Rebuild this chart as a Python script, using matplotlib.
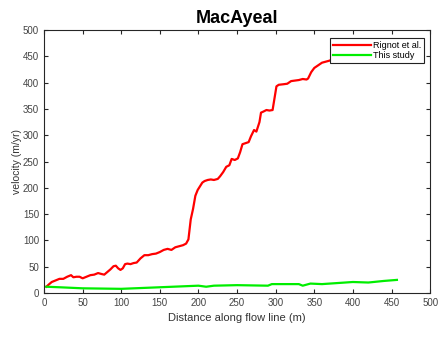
import numpy as np
import matplotlib
matplotlib.use('Agg')
import matplotlib.pyplot as plt

plt.rcParams['font.family'] = ['Liberation Sans', 'DejaVu Sans']

# Rignot et al. velocity along the flow line
rignotDist = [3, 6, 10, 15, 20, 25, 30, 35, 38, 42, 46, 50, 55, 60, 65, 70, 75, 78, 82, 86, 90, 93, 96, 99, 102,
              105, 108, 112, 116, 120, 125, 130, 135, 140, 145, 150, 155, 160, 165, 170, 175, 180, 184, 187,
              190, 193, 196, 199, 202, 205, 208, 212, 216, 220, 225, 228, 232, 236, 240, 243, 247, 251, 254,
              257, 261, 265, 268, 272, 275, 279, 281, 284, 288, 292, 296, 299, 301, 304, 310, 315, 320, 325,
              330, 335, 340, 342, 346, 350, 355, 360, 365, 370, 375, 380, 390, 400, 410, 420, 430, 440, 450, 457]
rignotVel = [12, 16, 21, 24, 27, 27, 31, 34, 30, 31, 31, 28, 31, 34, 35, 38, 36, 35, 40, 45, 51, 52, 47, 44, 47,
             55, 56, 55, 57, 58, 66, 72, 72, 74, 75, 78, 82, 84, 82, 87, 89, 91, 94, 102,
             140, 160, 185, 196, 203, 210, 213, 215, 216, 215, 217, 222, 230, 240, 243, 255, 253, 256, 268,
             283, 285, 287, 298, 310, 307, 325, 343, 345, 348, 347, 348, 375, 393, 396, 397, 398, 403, 404,
             405, 407, 406, 408, 420, 428, 433, 438, 440, 442, 446, 450, 452, 455, 458, 460, 462, 464, 466, 468]

# This study
studyDist = [3, 20, 50, 100, 150, 200, 210, 220, 250, 290, 295, 330, 335, 345, 360, 400, 420, 440, 457]
studyVel = [12, 11, 9, 8, 11, 14, 12, 14, 15, 14, 17, 17, 14, 18, 17, 21, 20, 23, 25]

fig = plt.figure(figsize=(4.38, 3.38), dpi=100)
ax = fig.add_axes([0.1005, 0.133, 0.8815, 0.778])
ax.plot(rignotDist, rignotVel, color='#ff0000', lw=1.6, label='Rignot et al.')
ax.plot(studyDist, studyVel, color='#00ee00', lw=1.6, label='This study')

ax.set_xlim(0, 500)
ax.set_ylim(0, 500)
ax.set_xticks(np.arange(0, 501, 50))
ax.set_yticks(np.arange(0, 501, 50))
ax.tick_params(direction='in', top=True, right=True, labelsize=7, length=3,
               colors='#262626', labelcolor='#444444')
for spine in ax.spines.values():
    spine.set_color('#262626')
ax.set_xlabel('Distance along flow line (m)', fontsize=8, labelpad=4, color='#333333')
ax.set_ylabel('velocity (m/yr)', fontsize=7.5, labelpad=1, color='#333333')
ax.set_title('MacAyeal', fontsize=13, fontweight='bold', pad=5)
leg = ax.legend(loc='upper right', fontsize=6.5, fancybox=False, framealpha=1,
                edgecolor='#222222', bbox_to_anchor=(0.985, 0.97), borderaxespad=0,
                handlelength=4.2, borderpad=0.3, labelspacing=0.2, handletextpad=0.3)
leg.get_frame().set_linewidth(0.8)

fig.savefig('out.png', dpi=100)
